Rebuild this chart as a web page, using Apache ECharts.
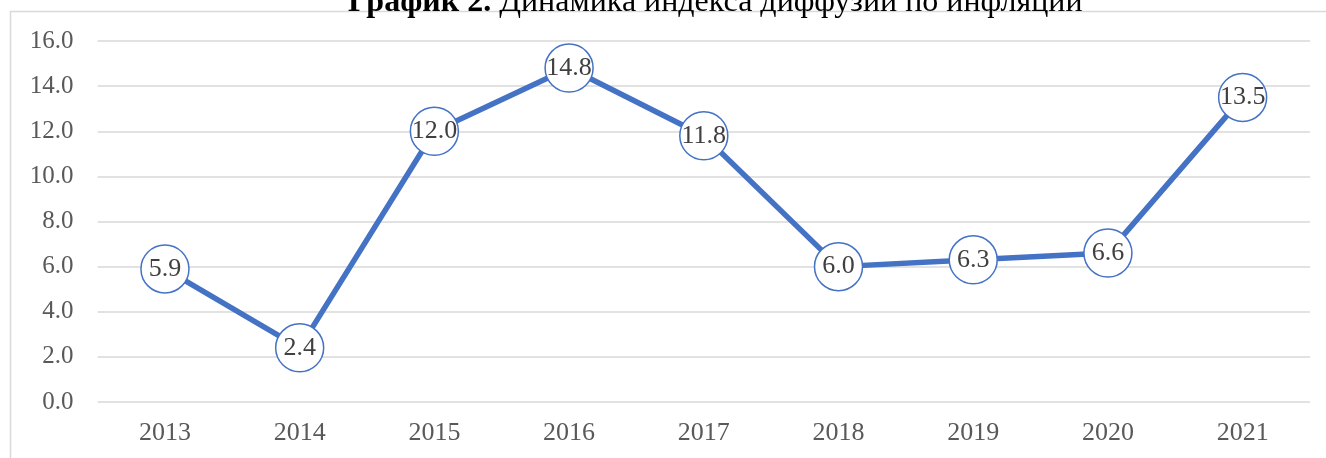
<!doctype html>
<html>
<head>
<meta charset="utf-8">
<title>График 2</title>
<script src="https://cdn.jsdelivr.net/npm/echarts@6/dist/echarts.min.js"></script>
<style>
    body{margin:0;background:#fff;}
    #main{width:1326px;height:458px;}
</style>
</head>
<body>
<div id="main"></div>
<script>
    // данные графика
    var years = ['2013','2014','2015','2016','2017','2018','2019','2020','2021'];
    var values = [5.9, 2.4, 12.0, 14.8, 11.8, 6.0, 6.3, 6.6, 13.5];

    var myChart = echarts.init(document.getElementById('main'));
    var option = {
        animation: false,
        title: {
            text: '{b|График 2.} Динамика индекса диффузии по инфляции',
            left: 343,
            top: -18,
            textStyle: {
                fontFamily: 'Liberation Serif',
                fontSize: 32,
                fontWeight: 'normal',
                color: '#000',
                rich: {
                    b: {fontFamily: 'Liberation Serif', fontSize: 32, fontWeight: 'bold', color: '#000'}
                }
            }
        },
        graphic: [{
            type: 'polyline',
            silent: true,
            shape: {points: [[10.5, 470], [10.5, 11.5], [1340, 11.5]]},
            style: {stroke: '#d9d9d9', lineWidth: 1.5, fill: null},
            z: -1
        }],
        grid: {left: 97.6, right: 16, top: 41, bottom: 56},
        xAxis: {
            type: 'category',
            data: years,
            boundaryGap: true,
            axisLine: {show: false},
            axisTick: {show: false},
            axisLabel: {
                margin: 18,
                fontFamily: 'Liberation Serif',
                fontSize: 26,
                color: '#595959'
            }
        },
        yAxis: {
            type: 'value',
            min: 0,
            max: 16,
            interval: 2,
            axisLine: {show: false},
            axisTick: {show: false},
            axisLabel: {
                margin: 24,
                fontFamily: 'Liberation Serif',
                fontSize: 25,
                color: '#595959',
                formatter: function (v) { return v.toFixed(1); }
            },
            splitLine: {lineStyle: {color: '#d9d9d9', width: 1.5}}
        },
        series: [{
            type: 'line',
            data: values,
            symbol: 'circle',
            symbolSize: 48,
            showAllSymbol: true,
            lineStyle: {color: '#4472C4', width: 5.5},
            itemStyle: {color: '#fff', borderColor: '#4472C4', borderWidth: 1.5},
            label: {
                show: true,
                position: 'inside',
                fontFamily: 'Liberation Serif',
                fontSize: 26,
                color: '#404040',
                formatter: function (p) { return p.value.toFixed(1); }
            }
        }]
    };
    myChart.setOption(option);
</script>
</body>
</html>
